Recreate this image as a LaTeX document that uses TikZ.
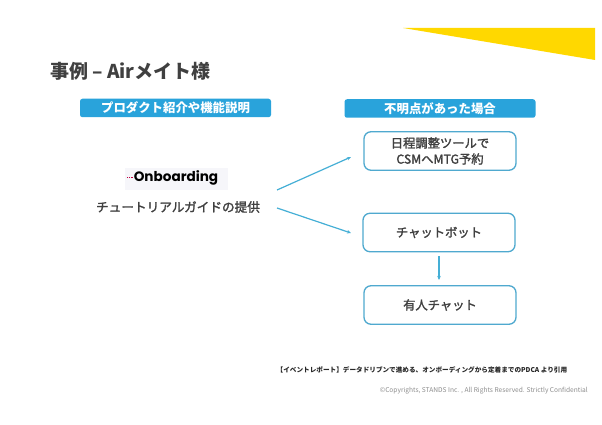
\documentclass[tikz,border=0pt]{standalone}
\usepackage{fontspec}
\setmainfont{Noto Sans CJK JP}
\newfontfamily\logofont{Poppins}
\newcommand{\medtext}[1]{\special{pdf:code 2 Tr 0.22 w}#1\special{pdf:code 0 Tr}}
\usetikzlibrary{arrows.meta}
\definecolor{hdr}{HTML}{29A3DB}
\definecolor{boxline}{HTML}{4FA9CF}
\definecolor{arrowc}{HTML}{45AFD6}
\definecolor{ink}{HTML}{404040}
\definecolor{ylw}{HTML}{FFD800}
\definecolor{logobg}{HTML}{F6F6FA}
\tikzset{
  hdrbox/.style={fill=hdr,draw=none,rounded corners=2.5pt,minimum width=191pt,minimum height=18.5pt,inner sep=0pt,text=white,font=\bfseries\fontsize{12.4}{14}\selectfont},
  stepbox/.style={draw=boxline,line width=1.3pt,fill=white,rounded corners=7pt,minimum width=152pt,minimum height=38.5pt,inner sep=0pt,align=center,text=ink,font=\fontsize{12.3}{16}\selectfont},
  conn/.style={draw=arrowc,line width=1.2pt,-{Stealth[length=4pt,width=3.5pt]}},
}
\begin{document}
\begin{tikzpicture}[x=1pt,y=-1pt]
\useasboundingbox (0,0) rectangle (602,425);
\fill[white] (0,0) rectangle (602,425);
\fill[ylw] (403,28) -- (595,28) -- (595,60) -- cycle;
\node[anchor=west,inner sep=0pt,text=ink,font=\bfseries\fontsize{19}{22}\selectfont] (title) at (50,71) {事例 – Airメイト様};
\node[hdrbox] (h1) at (175.5,108) {プロダクト紹介や機能説明};
\node[hdrbox] (h2) at (440,108.5) {不明点があった場合};
\fill[logobg] (125,168) rectangle (228,190);
\node[inner sep=0pt,font=\logofont\bfseries\fontsize{13.6}{16}\selectfont,text=black] (logo) at (176,178) {Onboarding};
\draw[densely dotted,draw=purple,line width=0.8pt] (127,177) -- (134,177);
\node[inner sep=0pt,text=ink,font=\fontsize{12.65}{14}\selectfont] (cap) at (178,207) {\medtext{チュートリアルガイドの提供}};
\node[stepbox] (b1) at (440,151) {\medtext{日程調整ツールで}\\\medtext{CSMへMTG予約}};
\node[stepbox] (b2) at (439,232.5) {\medtext{チャットボット}};
\node[stepbox] (b3) at (440,305) {\medtext{有人チャット}};
\coordinate (a1s) at (277,190);
\coordinate (a1e) at (351,157);
\coordinate (a2s) at (277,208);
\coordinate (a2e) at (351,233);
\coordinate (a3s) at (439,256);
\coordinate (a3e) at (439,280);
\draw[conn] (a1s) -- (a1e);
\draw[conn] (a2s) -- (a2e);
\draw[conn] (a3s) -- (a3e);
\node[anchor=west,inner sep=0pt,text=black!85,font=\bfseries\fontsize{6.62}{8}\selectfont] (src) at (276.5,370) {【イベントレポート】データドリブンで進める、オンボーディングから定着までのPDCA より引用};
\node[anchor=east,inner sep=0pt,text=black!45,font=\fontsize{6.6}{9}\selectfont] (copy) at (588,391) {©Copyrights, STANDS Inc. , All Rights Reserved. Strictly Confidential};
\end{tikzpicture}
\end{document}
